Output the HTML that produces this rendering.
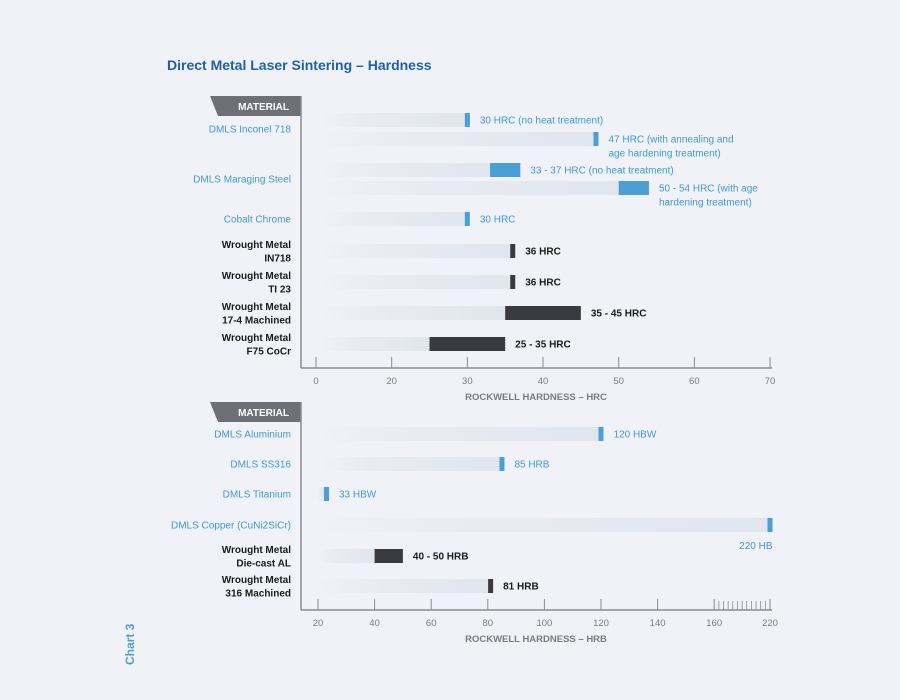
<!DOCTYPE html>
<html><head><meta charset="utf-8"><style>
html,body{margin:0;padding:0;background:#f0f2f7;}
svg{display:block;font-family:"Liberation Sans",sans-serif;}
</style></head><body>
<svg id="s" width="900" height="700" viewBox="0 0 900 700">
<defs>
<linearGradient id="fade" x1="0" x2="1" y1="0" y2="0">
<stop offset="0" stop-color="#e3e7ef" stop-opacity="0"/>
<stop offset="0.35" stop-color="#e6e9f0" stop-opacity="0.8"/>
<stop offset="1" stop-color="#e1e5ee"/>
</linearGradient>
</defs>
<rect width="900" height="700" fill="#f0f2f7"/>
<text x="167" y="70" font-size="14" font-weight="bold" fill="#1f61a8">Direct Metal Laser Sintering – Hardness</text>
<text transform="translate(134,665) rotate(-90)" font-size="12" font-weight="bold" fill="#4a9fd4">Chart 3</text>
</svg>
<script>
// ===== Top chart (HRC) data =====
const hrcTicks = [0, 20, 30, 40, 50, 60, 70];
const hrcCats = ["DMLS Inconel 718","DMLS Maraging Steel","Cobalt Chrome","Wrought Metal|IN718","Wrought Metal|TI 23","Wrought Metal|17-4 Machined","Wrought Metal|F75 CoCr"];
const hrcRowCat = [0, 0, 1, 1, 2, 3, 4, 5, 6];
const hrcLow  = [30, 47, 33, 50, 30, 36, 36, 35, 25];
const hrcHigh = [30, 47, 37, 54, 30, 36, 36, 45, 35];
const hrcLabels = ["30 HRC (no heat treatment)","47 HRC (with annealing and|age hardening treatment)","33 - 37 HRC (no heat treatment)","50 - 54 HRC (with age|hardening treatment)","30 HRC","36 HRC","36 HRC","35 - 45 HRC","25 - 35 HRC"];
const hrcDark = [false,false,false,false,false,true,true,true,true];

// ===== Bottom chart (HRB) data =====
const hrbTicks = [20, 40, 60, 80, 100, 120, 140, 160, 220];
const hrbCats = ["DMLS Aluminium","DMLS SS316","DMLS Titanium","DMLS Copper (CuNi2SiCr)","Wrought Metal|Die-cast AL","Wrought Metal|316 Machined"];
const hrbLow  = [120, 85, 23, 220, 40, 81];
const hrbHigh = [120, 85, 23, 220, 50, 81];
const hrbLabels = ["120 HBW","85 HRB","33 HBW","220 HB","40 - 50 HRB","81 HRB"];
const hrbDark = [false,false,false,false,true,true];

const svg = document.getElementById('s');
const NS = 'http://www.w3.org/2000/svg';
function el(tag, attrs, parent){const e=document.createElementNS(NS,tag);for(const k in attrs)e.setAttribute(k,attrs[k]);(parent||svg).appendChild(e);return e;}
function piecewise(ticks, tickPx){
  return v=>{for(let i=0;i<ticks.length-1;i++){if(v<=ticks[i+1]||i===ticks.length-2){const t=(v-ticks[i])/(ticks[i+1]-ticks[i]);return tickPx[i]+t*(tickPx[i+1]-tickPx[i]);}}return tickPx[0];};
}
const BLUE="#4a9fd4", DARK="#3a3b40", LBLUE="#3f9ad2";

function header(y){
  const g=el('g',{});
  
  
  el('polygon',{points:`210,${y} 301,${y} 301,${y+20} 218,${y+20}`,fill:'#6e7078'},g);
  el('text',{x:289,y:y+14,'text-anchor':'end','font-size':10,'font-weight':'bold',fill:'#fff'},g).textContent='MATERIAL';
}
function catLabel(text, y, dark){
  const parts=text.split('|');
  const t=el('text',{x:291,'text-anchor':'end','font-size':10,fill:dark?'#1a1a1a':LBLUE,'font-weight':dark?'bold':'normal'});
  
  
  const y0 = y - (parts.length-1)*6.5 + 3.5;
  parts.forEach((p,i)=>{const ts=el('tspan',{x:291,y:y0+i*13.5},t);ts.textContent=p;});
}
function bar(x, lo, hi, y, dark, label, labelBelow, startPx){
  const x0=x(lo), x1=x(hi);
  const g=el('g',{});
  
  
  el('rect',{x:startPx,y:y-7,width:Math.max(0,x0-startPx),height:14,fill:'url(#fade)'},g);
  const w = hi>lo ? x1-x0 : 5;
  const bx = hi>lo ? x0 : x0-2.5;
  el('rect',{x:bx,y:y-7,width:w,height:14,fill:dark?DARK:BLUE},g);
  const parts=label.split('|');
  const t=el('text',{'font-size':10,fill:dark?'#1a1a1a':LBLUE,'font-weight':dark?'bold':'normal'},g);
  let tx = bx+w+10, ty = y+3.5 - (parts.length-1)*0;
  if(labelBelow){ t.setAttribute('text-anchor','end'); tx=bx+w; ty=y+24; }
  parts.forEach((p,i)=>{const ts=el('tspan',{x:tx,y:ty+i*14},t);ts.textContent=p;});
}
function axis(x, ticks, yAxis, top, title, minor){
  el('line',{x1:301,y1:top,x2:301,y2:yAxis,stroke:'#8a8c93','stroke-width':1.5});
  el('line',{x1:301,y1:yAxis,x2:772,y2:yAxis,stroke:'#8a8c93','stroke-width':1.5});
  ticks.forEach(v=>{
    const px=x(v);
    const l=el('line',{x1:px,y1:yAxis-11,x2:px,y2:yAxis,stroke:'#8a8c93','stroke-width':1});
    
    
    const t=el('text',{x:px,y:yAxis+16,'text-anchor':'middle','font-size':9.5,fill:'#7a7c83'});
    
    
    t.textContent=v;
  });
  if(minor){for(let v=minor[0];v<minor[1];v+=minor[2]){const px=x(v);el('line',{x1:px,y1:yAxis-9,x2:px,y2:yAxis,stroke:'#8a8c93','stroke-width':0.8});}}
  const tt=el('text',{x:536,y:yAxis+32,'text-anchor':'middle','font-size':9.5,'font-weight':'bold',fill:'#7a7c83'});
  
  
  tt.textContent=title;
}

// Top chart
const xTop = piecewise(hrcTicks, hrcTicks.map((v,i)=>316+i*75.67));
header(96);
const topCatY=[129,179,219,251,282,313,344];
const topRowY=[120,139,170,188,219,251,282,313,344];
hrcCats.forEach((c,i)=>catLabel(c, topCatY[i], c.indexOf('|')>=0));
hrcLow.forEach((lo,i)=>{
  const lbl=hrcLabels[i];
  bar(xTop, lo, hrcHigh[i], topRowY[i], hrcDark[i], lbl, false, 320);
});
axis(xTop, hrcTicks, 368, 96, 'ROCKWELL HARDNESS – HRC');

// Bottom chart
const linPx = hrbTicks.map((v,i)=> i<8 ? 318+i*56.6 : 770);
const xBot = piecewise(hrbTicks, linPx);
header(402);
const botY=[434,464,494,525,556,586];
hrbCats.forEach((c,i)=>catLabel(c, botY[i], c.indexOf('|')>=0));
hrbLow.forEach((lo,i)=>{
  bar(xBot, lo, hrbHigh[i], botY[i], hrbDark[i], hrbLabels[i], i===3, 318);
});
axis(xBot, hrbTicks, 610, 402, 'ROCKWELL HARDNESS – HRB', [165,220,5]);
</script>
</body></html>
